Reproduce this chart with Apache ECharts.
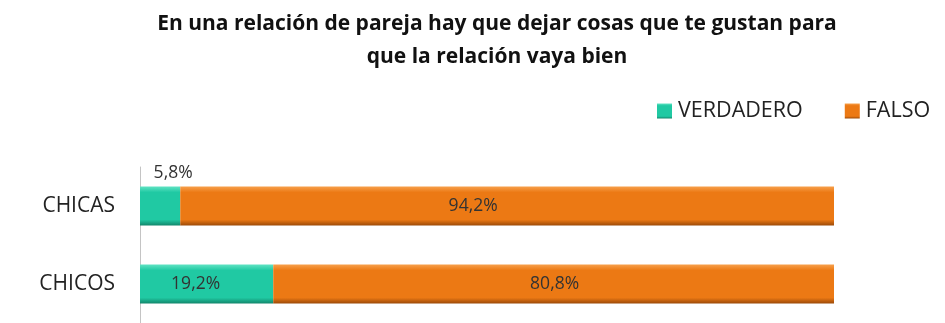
<!DOCTYPE html>
<html><head><meta charset="utf-8">
<script src="https://cdn.jsdelivr.net/npm/echarts@6/dist/echarts.min.js"></script>
<style>html,body{margin:0;padding:0;background:#fff}#c{width:945px;height:323px}</style>
</head><body><div id="c"></div>
<script>
const categories = ['CHICOS', 'CHICAS'];
const verdadero = [19.2, 5.8];
const falso = [80.8, 94.2];
const seriesNames = ['VERDADERO', 'FALSO'];

const fmt = v => v.toFixed(1).replace('.', ',') + '%';
const grad = (top, mid, bot) => new echarts.graphic.LinearGradient(0, 0, 0, 1, [
  {offset: 0, color: top}, {offset: 0.15, color: mid}, {offset: 0.85, color: mid}, {offset: 1, color: bot}
]);
const chart = echarts.init(document.getElementById('c'));
chart.setOption({
  animation: false,
  title: {
    text: 'En una relación de pareja hay que dejar cosas que te gustan para\nque la relación vaya bien',
    left: 492, textAlign: 'center', top: 3,
    textStyle: {fontFamily: 'Open Sans', fontWeight: 'bold', fontSize: 21, color: '#111', lineHeight: 33}
  },
  legend: {
    data: seriesNames, left: 652, top: 95, itemWidth: 15, itemHeight: 15, itemGap: 42,
    textStyle: {fontFamily: 'Open Sans', fontSize: 21.5, color: '#222', padding: [0, 0, 0, 1]},
    icon: 'rect'
  },
  grid: {left: 140, right: 111, top: 167, bottom: -4, containLabel: false},
  xAxis: {type: 'value', min: 0, max: 100, show: false},
  yAxis: {
    type: 'category', data: categories,
    axisLine: {lineStyle: {color: '#c4c4c4', width: 1}}, axisTick: {show: false},
    axisLabel: {fontFamily: 'Open Sans', fontSize: 21, color: '#222', margin: 25}
  },
  series: [
    {
      name: seriesNames[0], type: 'bar', stack: 't', barWidth: 39,
      data: verdadero.map((v, i) => ({value: v, label: {position: i === 1 ? 'top' : 'inside', offset: i === 1 ? [13, 1] : [-11, 0]}})),
      itemStyle: {color: grad('#60e3c3', '#20c9a3', '#12866b')},
      label: {show: true, formatter: p => fmt(p.value), fontFamily: 'Open Sans', fontSize: 17.5, color: '#333'}
    },
    {
      name: seriesNames[1], type: 'bar', stack: 't', barWidth: 39,
      data: falso.map((v, i) => ({value: v, label: {offset: i === 1 ? [-34, 0] : [1, 0]}})),
      itemStyle: {color: grad('#f7a04b', '#ec7914', '#9c4a08')},
      label: {show: true, position: 'inside', formatter: p => fmt(p.value), fontFamily: 'Open Sans', fontSize: 17.5, color: '#333'}
    }
  ]
});
</script></body></html>
